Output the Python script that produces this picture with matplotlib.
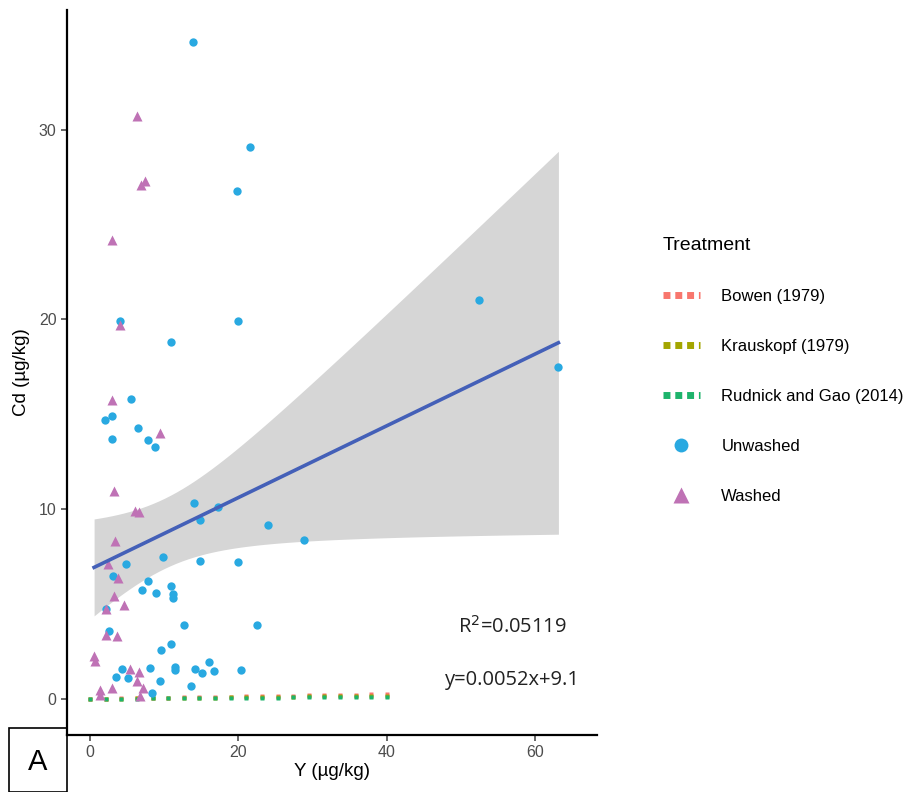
import numpy as np
import matplotlib.pyplot as plt
from matplotlib.patches import Rectangle
from matplotlib.lines import Line2D

# Unwashed samples
unwashed_y = [13.9, 21.5, 19.8, 4.0, 20.0, 10.9, 5.5, 2.0, 3.0, 6.4, 2.9, 7.8, 8.8,
              14.0, 17.2, 14.8, 24.0, 28.8, 9.8, 4.85, 14.8, 19.9, 3.1, 7.8, 7.0, 8.9,
              10.9, 11.2, 11.2, 2.2, 2.5, 12.6, 10.9, 9.5, 4.3, 3.5, 5.1, 8.1, 9.4, 8.3,
              11.4, 11.5, 14.2, 15.1, 13.6, 22.5, 16.0, 16.7, 20.4, 52.4, 63.1]
unwashed_cd = [34.6, 29.1, 26.75, 19.9, 19.9, 18.8, 15.8, 14.7, 14.9, 14.3, 13.7, 13.65, 13.3,
               10.3, 10.1, 9.45, 9.15, 8.35, 7.5, 7.1, 7.25, 7.2, 6.5, 6.2, 5.75, 5.6,
               5.95, 5.55, 5.3, 4.75, 3.6, 3.9, 2.9, 2.6, 1.6, 1.15, 1.1, 1.65, 0.95, 0.3,
               1.7, 1.5, 1.6, 1.35, 0.7, 3.9, 1.95, 1.45, 1.55, 21.0, 17.5]

# Washed samples
washed_y = [6.3, 6.9, 7.4, 3.0, 4.1, 2.9, 9.4, 3.2, 6.0, 6.6, 3.4, 2.4, 3.8, 3.2, 4.6,
            2.2, 2.2, 3.7, 0.55, 0.7, 5.4, 6.6, 6.3, 7.1, 2.9, 1.4, 1.3, 6.8]
washed_cd = [30.7, 27.1, 27.3, 24.2, 19.7, 15.75, 14.0, 10.95, 9.9, 9.85, 8.3, 7.1, 6.35, 5.4, 4.95,
             4.75, 3.35, 3.3, 2.25, 2.0, 1.6, 1.4, 0.95, 0.6, 0.6, 0.45, 0.2, 0.15]

# Crustal Cd/Y reference ratios
ref_names = ["Bowen (1979)", "Krauskopf (1979)", "Rudnick and Gao (2014)"]
ref_slopes = [0.0065, 0.0045, 0.003]
ref_colors = ["#F8766D", "#A3A500", "#1DB36B"]
ref_y = np.linspace(0, 40, 20)

fit_text = ["R$^2$=0.05119", "y=0.0052x+9.1"]

plt.rcParams['font.family'] = ['Liberation Sans', 'DejaVu Sans']

fig = plt.figure(figsize=(9.14, 7.92), dpi=100)
ax = fig.add_axes([67/914, 57/792, 530/914, 725/792])

# linear fit over all samples with 95% band
x_all = np.array(unwashed_y + washed_y)
y_all = np.array(unwashed_cd + washed_cd)
n = len(x_all)
b1, b0 = np.polyfit(x_all, y_all, 1)
resid = y_all - (b0 + b1*x_all)
s = np.sqrt(np.sum(resid**2)/(n-2))
xbar = x_all.mean()
sxx = np.sum((x_all - xbar)**2)
xs = np.linspace(x_all.min(), x_all.max(), 80)
fit = b0 + b1*xs
half = 1.989 * s * np.sqrt(1/n + (xs - xbar)**2/sxx)

ax.fill_between(xs, fit - half, fit + half, color="#D6D6D6", lw=0, zorder=1)

for name, k, c in zip(ref_names, ref_slopes, ref_colors):
    ax.plot(ref_y, k*ref_y, color=c, ls="", marker="s", ms=3.2, mec="none", zorder=2)

ax.scatter(unwashed_y, unwashed_cd, s=36, color="#29A9E1", lw=0, zorder=3)
ax.scatter(washed_y, washed_cd, s=52, marker="^", color="#BF72B5", lw=0, zorder=3)
ax.plot(xs, fit, color="#4460B8", lw=2.6, zorder=4)

ax.set_xlim(-3.1, 68.3)
ax.set_ylim(-1.9, 36.3)
ax.set_xticks([0, 20, 40, 60])
ax.set_yticks([0, 10, 20, 30])
for sp in ["top", "right"]:
    ax.spines[sp].set_visible(False)
for sp in ["left", "bottom"]:
    ax.spines[sp].set_linewidth(1.6)
ax.tick_params(colors="#4D4D4D", labelsize=11.5, length=4, width=1.2)
ax.set_xlabel("Y (µg/kg)", fontsize=13.5, labelpad=2)
ax.set_ylabel("Cd (µg/kg)", fontsize=13.5, labelpad=6)

fig.text(512/914, 1 - 627/792, fit_text[0], ha="center", va="center",
         fontsize=14.5, family="Open Sans", color="#222222")
fig.text(512/914, 1 - 680/792, fit_text[1], ha="center", va="center",
         fontsize=14.5, family="Open Sans", color="#222222")

handles = [Line2D([], [], color=c, lw=5, ls=(0, (1, 0.7))) for c in ref_colors]
handles.append(Line2D([], [], ls="", marker="o", ms=10, color="#29A9E1", mec="none"))
handles.append(Line2D([], [], ls="", marker="^", ms=12, color="#BF72B5", mec="none"))
leg = ax.legend(handles, ref_names + ["Unwashed", "Washed"], title="Treatment",
                loc="upper left", bbox_to_anchor=(648/914, 1 - 222/792),
                bbox_transform=fig.transFigure, frameon=False, fontsize=12,
                title_fontsize=14, labelspacing=2.1, handlelength=2.2, handletextpad=1.3)
leg._legend_box.align = "left"

# panel tag box
fig.patches.append(Rectangle((9/914, 0), 58/914, 64/792, transform=fig.transFigure,
                             fill=False, lw=1.2, ec="black"))
fig.text(38/914, 30/792, "A", ha="center", va="center", fontsize=21)

fig.savefig("out.png", dpi=100)
